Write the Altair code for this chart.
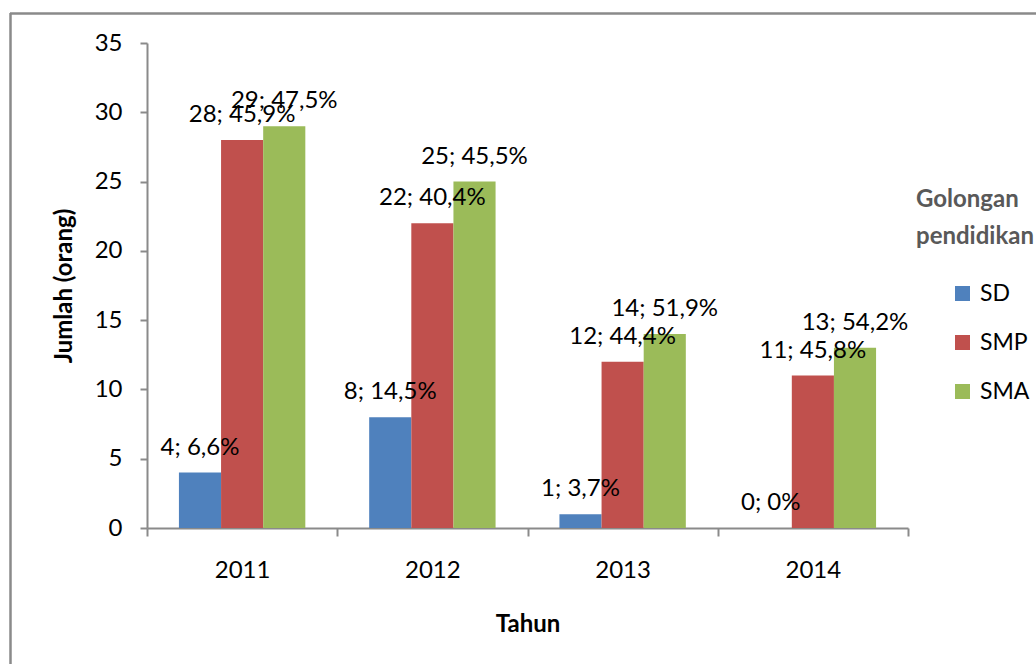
import altair as alt
import pandas as pd

years = ["2011", "2012", "2013", "2014"]
groups = ["SD", "SMP", "SMA"]
sd = [4, 8, 1, 0]
smp = [28, 22, 12, 11]
sma = [29, 25, 14, 13]
pct_sd = [6.6, 14.5, 3.7, 0]
pct_smp = [45.9, 40.4, 44.4, 45.8]
pct_sma = [47.5, 45.5, 51.9, 54.2]
colors = ["#4F81BD", "#C0504D", "#9BBB59"]
y_ticks = [0, 5, 10, 15, 20, 25, 30, 35]


def fmt(n, p):
    ps = "0" if p == 0 else f"{p:.1f}".replace(".", ",")
    return f"{n}; {ps}%"


rows = []
for i, yr in enumerate(years):
    for g, vals, pcts in zip(groups, [sd, smp, sma], [pct_sd, pct_smp, pct_sma]):
        rows.append({"Tahun": yr, "Golongan": g, "Jumlah": vals[i],
                     "label": fmt(vals[i], pcts[i])})
df = pd.DataFrame(rows)

FONT = "Lato"

xenc = alt.X("Tahun:N", sort=years,
             scale=alt.Scale(paddingInner=0, paddingOuter=0),
             axis=alt.Axis(title="Tahun", labelAngle=0, tickBand="extent",
                           tickSize=8, labelPadding=22, titlePadding=30,
                           labelFontSize=24, titleFontSize=24,
                           titleFontWeight="bold", domainColor="#8a8a8a",
                           tickColor="#8a8a8a", domainWidth=2, tickWidth=2,
                           labelColor="black", titleColor="black",
                           labelFont=FONT, titleFont=FONT))
xoff = alt.XOffset("Golongan:N", sort=groups,
                   scale=alt.Scale(paddingInner=0, paddingOuter=0.758))
yenc = alt.Y("Jumlah:Q", scale=alt.Scale(domain=[0, 35], nice=False),
             axis=alt.Axis(title="Jumlah (orang)", values=y_ticks, grid=False,
                           tickSize=7, labelPadding=18, titlePadding=18,
                           labelFontSize=24, titleFontSize=24,
                           titleFontWeight="bold", domainColor="#8a8a8a",
                           tickColor="#8a8a8a", domainWidth=2, tickWidth=2,
                           labelColor="black", titleColor="black",
                           labelFont=FONT, titleFont=FONT))

base = alt.Chart(df)

bars = base.mark_bar().encode(
    x=xenc, xOffset=xoff, y=yenc,
    color=alt.Color("Golongan:N", sort=groups,
                    scale=alt.Scale(domain=groups, range=colors),
                    legend=alt.Legend(
                        title=["Golongan", "pendidikan"], orient="none",
                        legendX=769, legendY=145, padding=0,
                        titleFontSize=24, titleFontWeight="bold",
                        titleColor="#595959", titleFont=FONT,
                        titleLineHeight=37, titlePadding=33,
                        labelFontSize=23, labelFont=FONT, labelColor="black",
                        symbolType="square", symbolSize=225,
                        symbolStrokeWidth=0, symbolOffset=35,
                        labelOffset=6, rowPadding=25)),
)

labels = base.mark_text(fontSize=24, font=FONT, color="black",
                        baseline="middle", dy=-25).encode(
    x=alt.X("Tahun:N", sort=years), xOffset=alt.XOffset("Golongan:N", sort=groups),
    y="Jumlah:Q", text="label:N",
)

frame = alt.Chart(pd.DataFrame({"k": [0]}))
top_line = frame.mark_rule(color="#8a8a8a", strokeWidth=2.5).encode(
    x=alt.value(-137), x2=alt.value(900), y=alt.value(-29.5))
left_line = frame.mark_rule(color="#8a8a8a", strokeWidth=2.5).encode(
    x=alt.value(-136.5), y=alt.value(-30), y2=alt.value(640))

chart = alt.layer(bars, labels, top_line, left_line).properties(
    width=761, height=485,
    autosize=alt.AutoSizeParams(type="none"),
    padding={"left": 147, "top": 43, "right": 128, "bottom": 136},
    background="white",
).configure_view(stroke=None)

chart.save("out.html", embed_options={"renderer": "svg", "actions": False})
